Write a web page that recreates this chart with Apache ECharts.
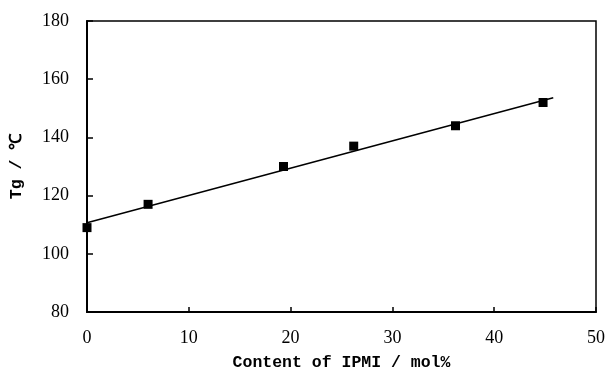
<!DOCTYPE html>
<html><head><meta charset="utf-8">
<script src="https://cdn.jsdelivr.net/npm/echarts@6/dist/echarts.min.js"></script>
<style>html,body{margin:0;padding:0;background:#fff}#c{width:606px;height:371px}</style>
</head><body><div id="c"></div>
<script>
const xContent = [0, 6.0, 19.3, 26.2, 36.2, 44.8];
const tgValues = [109, 117, 130, 137, 144, 152];
const fitX = [0, 45.8];
const fitY = [110.7, 153.6];

const chart = echarts.init(document.getElementById('c'));
const tickFont = {fontFamily: 'Liberation Serif', fontSize: 18, color: '#000'};
chart.setOption({
  animation: false,
  backgroundColor: '#fff',
  grid: {left: 87, right: 10, top: 21, bottom: 59, containLabel: false, outerBoundsMode: 'none',
    show: true, borderColor: '#000', borderWidth: 1.5, backgroundColor: 'transparent'},
  xAxis: {
    type: 'value', min: 0, max: 50, interval: 10,
    name: 'Content of IPMI / mol%', nameLocation: 'middle', nameGap: 42,
    nameTextStyle: {fontFamily: 'Liberation Mono', fontSize: 16.5, fontWeight: 'bold', color: '#000'},
    axisLine: {lineStyle: {color: '#000', width: 2}},
    axisTick: {inside: true, length: 5, lineStyle: {color: '#000', width: 1.5}},
    axisLabel: Object.assign({margin: 17}, tickFont),
    splitLine: {show: false}
  },
  yAxis: {
    type: 'value', min: 80, max: 180, interval: 20,
    name: 'Tg / ℃', nameLocation: 'middle', nameGap: 62, nameRotate: 90,
    nameTextStyle: {fontFamily: 'Liberation Mono', fontSize: 16.5, fontWeight: 'bold', color: '#000'},
    axisLine: {lineStyle: {color: '#000', width: 2}},
    axisTick: {inside: true, length: 6, lineStyle: {color: '#000', width: 1.5}},
    axisLabel: Object.assign({margin: 18}, tickFont),
    splitLine: {show: false}
  },
  series: [
    {
      type: 'line', data: fitX.map((x, i) => [x, fitY[i]]),
      symbol: 'none', lineStyle: {color: '#000', width: 1.5}, z: 2
    },
    {
      type: 'scatter', data: xContent.map((x, i) => [x, tgValues[i]]),
      symbol: 'rect', symbolSize: 9, itemStyle: {color: '#000', opacity: 1}, z: 3
    }
  ]
});
</script></body></html>
